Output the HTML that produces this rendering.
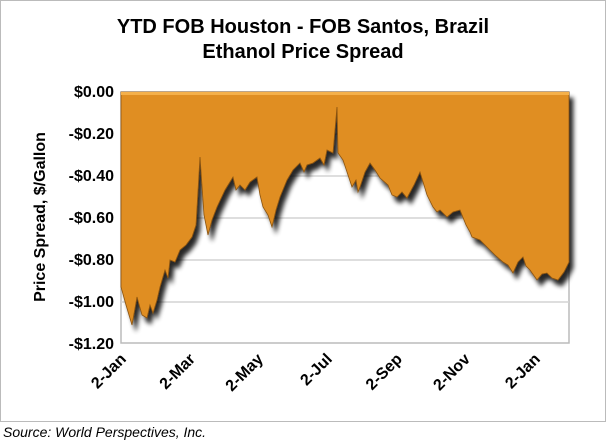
<!DOCTYPE html>
<html><head><style>
body{margin:0;background:#fff;}
svg{display:block;font-family:"Liberation Sans",Arial,sans-serif;}
</style></head><body>
<svg width="608" height="443" viewBox="0 0 608 443">
<defs>
<filter id="sh" x="-10%" y="-10%" width="130%" height="130%">
<feGaussianBlur in="SourceAlpha" stdDeviation="2.5"/>
<feOffset dx="4" dy="6" result="b"/>
<feComponentTransfer><feFuncA type="linear" slope="0.85"/></feComponentTransfer>
<feMerge><feMergeNode/><feMergeNode in="SourceGraphic"/></feMerge>
</filter>
</defs>
<rect x="0.5" y="0.5" width="605" height="421" fill="#fff" stroke="#bbb"/>
<text x="303" y="33" font-size="20" font-weight="bold" text-anchor="middle">YTD FOB Houston - FOB Santos, Brazil</text>
<text x="303" y="58" font-size="20" font-weight="bold" text-anchor="middle">Ethanol Price Spread</text>
<rect x="121" y="92" width="448" height="251" fill="#fff" stroke="#bbb" stroke-width="1.5"/>
<g stroke="#d4d4d4" stroke-width="1.5">
<line x1="121" y1="134" x2="569" y2="134"/><line x1="121" y1="176" x2="569" y2="176"/>
<line x1="121" y1="218" x2="569" y2="218"/><line x1="121" y1="260" x2="569" y2="260"/>
<line x1="121" y1="302" x2="569" y2="302"/>
</g>
<path filter="url(#sh)" fill="#e08e22" stroke="#8a5210" stroke-width="0.8" d="M121,92 L121,287 L126,305 L132,325 L137,297 L142,315 L147,318 L150,305 L153,313 L157,300 L160,287 L165,270 L168,278 L170,260 L175,262 L180,250 L186,245 L192,237 L196,225 L200,157 L204,215 L208,235 L212,220 L217,207 L225,190 L233,177 L236,190 L240,185 L245,190 L250,182 L257,177 L260,195 L263,207 L268,215 L272,227 L276,210 L280,197 L287,180 L293,170 L300,163 L304,172 L307,165 L313,163 L320,158 L324,165 L327,150 L333,153 L337,107 L338,153 L343,160 L348,175 L352,187 L356,180 L358,192 L360,187 L365,172 L370,163 L375,170 L380,178 L388,185 L392,195 L397,197 L402,192 L407,198 L414,185 L420,172 L427,195 L433,207 L437,212 L440,210 L447,217 L453,212 L460,210 L466,225 L470,232 L472,237 L480,240 L487,247 L495,255 L503,262 L508,265 L513,273 L518,262 L523,257 L526,266 L530,270 L537,280 L542,274 L547,273 L552,278 L558,280 L564,272 L569,262 L569,92 Z"/>
<rect x="121" y="92" width="448" height="3" fill="#f5b04a"/>
<g font-size="16" font-weight="bold" text-anchor="end">
<text x="114" y="97">$0.00</text><text x="114" y="139">-$0.20</text>
<text x="114" y="181">-$0.40</text><text x="114" y="223">-$0.60</text>
<text x="114" y="265">-$0.80</text><text x="114" y="307">-$1.00</text>
<text x="114" y="349">-$1.20</text>
</g>
<text transform="translate(45,217) rotate(-90)" font-size="16" font-weight="bold" text-anchor="middle">Price Spread, $/Gallon</text>
<g font-size="16" font-weight="bold" text-anchor="end">
<text transform="translate(127,360) rotate(-45)">2-Jan</text>
<text transform="translate(196,360) rotate(-45)">2-Mar</text>
<text transform="translate(264,360) rotate(-45)">2-May</text>
<text transform="translate(333,360) rotate(-45)">2-Jul</text>
<text transform="translate(403,360) rotate(-45)">2-Sep</text>
<text transform="translate(471,360) rotate(-45)">2-Nov</text>
<text transform="translate(541,360) rotate(-45)">2-Jan</text>
</g>
<text x="3" y="437" font-size="14" font-style="italic">Source: World Perspectives, Inc.</text>
</svg>
</body></html>
